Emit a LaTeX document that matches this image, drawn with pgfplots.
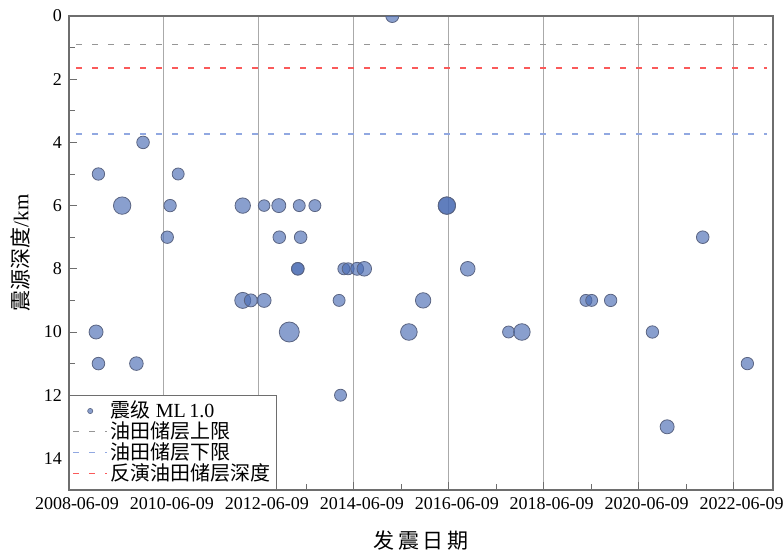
\documentclass[border=0pt]{standalone}
\usepackage{pgfplots}
\usepackage{pgfplotstable}
\pgfplotsset{compat=1.18}
\usepackage{fontspec}
\setmainfont{Liberation Serif}
\newfontfamily\cjk{Noto Sans CJK SC}
\usetikzlibrary{calc}
\definecolor{ptfill}{RGB}{74,108,180}
\definecolor{ptedge}{RGB}{90,100,130}
\definecolor{axgray}{RGB}{110,110,110}
\definecolor{gridgray}{RGB}{170,170,170}
\definecolor{lgray}{RGB}{150,150,150}
\definecolor{lred}{RGB}{250,90,90}
\definecolor{lblue}{RGB}{145,168,225}

\pgfplotstableread{
x d r
2015.25 0 3.25
2010.00 4 3.15
2009.06 5 3.1
2010.74 5 3.0
2009.56 6 4.35
2010.57 6 3.1
2010.51 7 3.1
2009.01 10 3.5
2009.06 11 3.15
2009.86 11 3.4
2012.10 6 3.85
2012.55 6 2.9
2012.86 6 3.5
2013.29 6 3.0
2013.62 6 3.0
2012.87 7 3.15
2013.32 7 3.15
2013.26 8 3.15
2013.26 8 3.15
2014.23 8 3.0
2014.32 8 3.0
2014.51 8 3.25
2014.66 8 3.65
2012.10 9 4.0
2012.27 9 3.25
2012.55 9 3.5
2014.13 9 3.0
2013.08 10 5.0
2014.16 12 3.0
2015.90 9 3.85
2015.60 10 4.15
2016.40 6 4.35
2016.40 6 4.35
2016.84 8 3.65
2017.70 10 3.0
2017.98 10 4.15
2019.33 9 3.0
2019.45 9 3.0
2019.85 9 3.1
2020.73 10 3.1
2021.04 13 3.5
2021.79 7 3.15
2022.73 11 3.1
}\quakes

\begin{document}
\begin{tikzpicture}
\begin{axis}[
  name=ax, at={(0,0)}, anchor=south west,
  scale only axis, width=352pt, height=237pt,
  xmin=2008.44, xmax=2023.27, ymin=0, ymax=15, y dir=reverse,
  xtick={2008.44,2010.44,2012.44,2014.44,2016.44,2018.44,2020.44,2022.44},
  xticklabels={2008-06-09,2010-06-09,2012-06-09,2014-06-09,2016-06-09,2018-06-09,2020-06-09,2022-06-09},
  minor xtick={2009.44,2011.44,2013.44,2015.44,2017.44,2019.44,2021.44},
  ytick={0,2,4,6,8,10,12,14}, minor ytick={1,3,5,7,9,11,13},
  xmajorgrids, major grid style={gridgray, line width=0.5pt},
  tick pos=left, tick align=inside,
  axis line style={axgray, line width=0.6pt},
  tick style={axgray, line width=0.5pt},
  major tick length=4pt, minor tick length=3pt,
  ticklabel style={font=\fontsize{9}{10}\selectfont},
  /pgf/number format/assume math mode=true,
  xticklabel style={xshift=4pt},
  xlabel={\cjk 发\,震\,日\,期}, ylabel={{\cjk 震源深度}/km},
  label style={font=\fontsize{10.5}{12}\selectfont},
  xlabel style={yshift=-4pt},
  clip marker paths=true,
  legend cell align=left,
  legend style={at={(0,0)}, anchor=south west, draw=axgray, line width=0.5pt, fill=white,
    font=\fontsize{10}{11}\selectfont, row sep=-2.5pt, inner sep=1.5pt,
    nodes={inner sep=1.5pt}},
]
\addlegendimage{only marks, mark=*, mark size=1.3pt, mark options={fill=ptfill, fill opacity=0.65, draw=ptedge, line width=0.3pt}}
\addlegendentry{{\cjk 震级} ML\,1.0}
\addplot[lgray, line width=0.6pt, dash pattern=on 3pt off 5pt] coordinates {(2008.59,0.9) (2023.15,0.9)};
\addlegendentry{\cjk 油田储层上限}
\addplot[lblue, line width=0.65pt, dash pattern=on 3pt off 5pt] coordinates {(2008.59,3.73) (2023.15,3.73)};
\addlegendentry{\cjk 油田储层下限}
\addplot[lred, line width=0.65pt, dash pattern=on 3pt off 5pt] coordinates {(2008.59,1.65) (2023.15,1.65)};
\addlegendentry{\cjk 反演油田储层深度}
\addplot[scatter, only marks, mark=*, forget plot,
  scatter/use mapped color={draw=ptedge, fill=ptfill},
  visualization depends on={\thisrow{r} \as \prad},
  scatter/@pre marker code/.append style={/tikz/mark size=\prad},
  mark options={fill opacity=0.65, line width=0.4pt}]
  table[x=x, y=d] {\quakes};
\end{axis}
\pgfresetboundingbox
\path ($(ax.south west)+(-34.5pt,-30.5pt)$) rectangle ($(ax.north east)+(5.5pt,8pt)$);
\end{tikzpicture}
\end{document}
